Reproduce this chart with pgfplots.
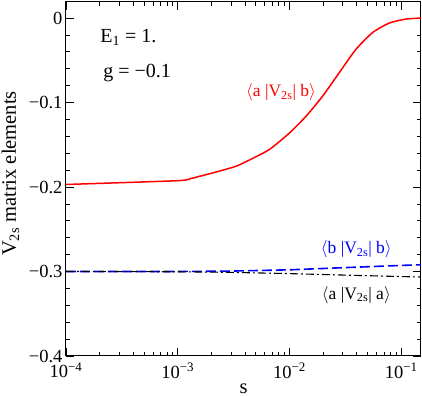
\documentclass[border=0pt]{standalone}
\usepackage{pgfplots}
\pgfplotsset{compat=1.18}
\usetikzlibrary{calc}
\usepackage{fontspec}
\setmainfont{Liberation Serif}

\begin{document}
\begin{tikzpicture}
\begin{axis}[
  name=ax,
  xmode=log,
  scale only axis,
  width=355pt, height=354pt,
  xmin=1e-4, xmax=0.15,
  ymin=-0.4, ymax=0.019,
  xtick={1e-4,1e-3,1e-2,1e-1},
  xticklabels={10\textsuperscript{−4},10\textsuperscript{−3},10\textsuperscript{−2},10\textsuperscript{−1}},
  ytick={-0.4,-0.3,-0.2,-0.1,0},
  yticklabels={−0.4,−0.3,−0.2,−0.1,0},
  minor ytick={-0.38,-0.36,-0.34,-0.32,-0.28,-0.26,-0.24,-0.22,-0.18,-0.16,-0.14,-0.12,-0.08,-0.06,-0.04,-0.02},
  tick align=inside,
  major tick length=8pt,
  minor tick length=4pt,
  every tick/.style={black, line width=0.8pt},
  axis line style={line width=1pt},
  tick label style={font=\fontsize{18.5}{20}\selectfont},
  xticklabel style={yshift=-6pt, inner sep=1pt},
  xlabel={s},
  ylabel={V\textsubscript{2s} matrix elements},
  label style={font=\fontsize{20.5}{22}\selectfont},
  xlabel style={at={(axis description cs:0.5,0)}, anchor=base, inner sep=0pt, yshift=-38pt},
  ylabel style={at={(axis description cs:-0.141,0.5155)}, anchor=base},
]
  \addplot[red, line width=1.5pt, smooth, tension=0.35] coordinates {
    (1e-4,-0.197) (1e-3,-0.1925) (1.3e-3,-0.1900) (1.68e-3,-0.1863)
    (2.3e-3,-0.1816) (3.34e-3,-0.1753) (4.6e-3,-0.1666)
    (6.62e-3,-0.1555) (1e-2,-0.136) (1.41e-2,-0.116) (1.985e-2,-0.0922)
    (2.79e-2,-0.0645) (3.94e-2,-0.0368) (5.55e-2,-0.017) (7.8e-2,-0.0059)
    (0.110,-0.0012) (0.15,0)
  };
  \addplot[blue, line width=1.6pt, dash pattern=on 10pt off 4pt] coordinates {
    (1e-4,-0.300) (1e-3,-0.300) (3e-3,-0.2995) (1e-2,-0.298)
    (3e-2,-0.2955) (0.1,-0.2928) (0.15,-0.2920)
  };
  \addplot[black, line width=1.1pt, dash pattern=on 8pt off 3pt on 2pt off 3pt] coordinates {
    (1e-4,-0.300) (1e-3,-0.3003) (3e-3,-0.3010) (1e-2,-0.3025)
    (3e-2,-0.3042) (0.1,-0.3060) (0.15,-0.3065)
  };
  \node[anchor=west, font=\fontsize{20}{22}\selectfont] at (axis cs:1.89e-4,-0.0225) {E\textsubscript{1} = 1.};
  \node[anchor=west, font=\fontsize{20}{22}\selectfont] at (axis cs:2.01e-4,-0.0645) {g = −0.1};
  \node[red, font=\fontsize{17.5}{19}\selectfont] at (axis cs:8.4e-3,-0.0878) {$\langle$a |V\textsubscript{2s}| b$\rangle$};
  \node[blue, font=\fontsize{17.5}{19}\selectfont] at (axis cs:0.0396,-0.274) {$\langle$b |V\textsubscript{2s}| b$\rangle$};
  \node[black, font=\fontsize{17.5}{19}\selectfont] at (axis cs:0.0396,-0.3276) {$\langle$a |V\textsubscript{2s}| a$\rangle$};
\end{axis}
\pgfresetboundingbox
\path[use as bounding box] ($(ax.south west)+(-66pt,-41pt)$) rectangle ($(ax.north east)+(1pt,2pt)$);
\end{tikzpicture}
\end{document}
